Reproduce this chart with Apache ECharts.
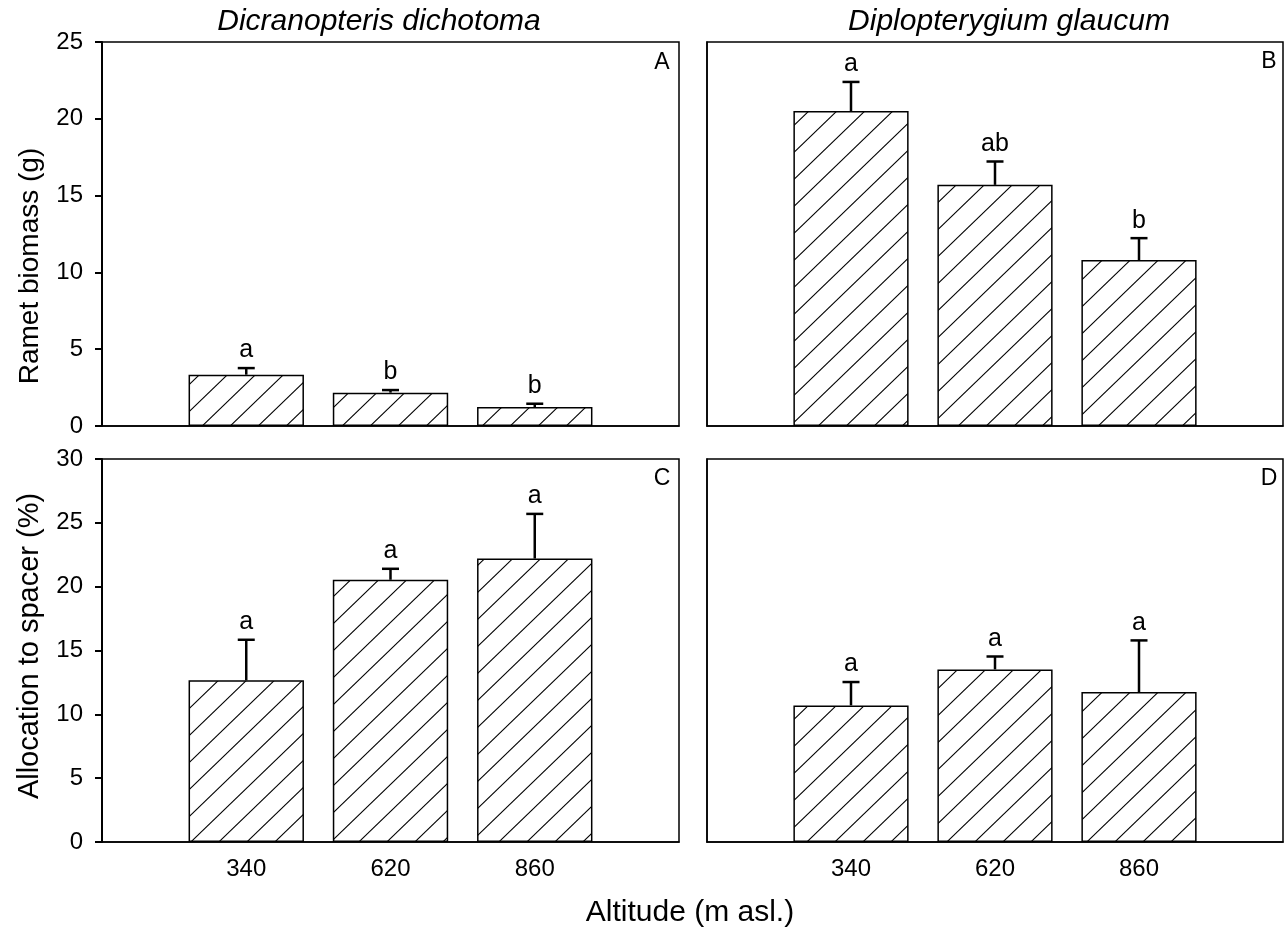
<!DOCTYPE html>
<html>
<head>
<meta charset="utf-8">
<script src="https://cdn.jsdelivr.net/npm/echarts@6/dist/echarts.min.js"></script>
<style>
html,body{margin:0;padding:0;background:#fff;}
#chart{width:1286px;height:933px;}
</style>
</head>
<body>
<div id="chart"></div>
<script>
// ---- data ----
const altitudes = ['340', '620', '860'];
const rametDicr = [3.34, 2.17, 1.23];
const rametDicrSE = [0.43, 0.17, 0.22];
const rametDicrLetters = ['a', 'b', 'b'];
const rametDipl = [20.5, 15.7, 10.8];
const rametDiplSE = [1.9, 1.52, 1.43];
const rametDiplLetters = ['a', 'ab', 'b'];
const allocDicr = [12.66, 20.54, 22.2];
const allocDicrSE = [3.18, 0.86, 3.5];
const allocDicrLetters = ['a', 'a', 'a'];
const allocDipl = [10.7, 13.52, 11.75];
const allocDiplSE = [1.83, 1.01, 4.04];
const allocDiplLetters = ['a', 'a', 'a'];
const rametTicks = [0, 5, 10, 15, 20, 25];
const allocTicks = [0, 5, 10, 15, 20, 25, 30];

const FONT = "'Liberation Sans', Arial, sans-serif";

// hatch pattern
function makeHatch() {
  const w = 28, h = 27;
  const c = document.createElement('canvas');
  c.width = w; c.height = h;
  const ctx = c.getContext('2d');
  ctx.fillStyle = '#fff';
  ctx.fillRect(0, 0, w, h);
  ctx.strokeStyle = '#000';
  ctx.lineWidth = 1.1;
  const s = h / w;
  [-w, 0, w].forEach(function (off) {
    ctx.beginPath();
    ctx.moveTo(off - 2, h + 2 * s);
    ctx.lineTo(off + w + 2, -2 * s);
    ctx.stroke();
  });
  return c;
}
const hatch = { image: makeHatch(), repeat: 'repeat' };

const cats = [''].concat(altitudes).concat(['']);
function pad(arr) { return ['-'].concat(arr).concat(['-']); }

const grids = [
  { left: 102, top: 42, width: 577, height: 384 },
  { left: 707, top: 42, width: 576, height: 384 },
  { left: 102, top: 459, width: 577, height: 383 },
  { left: 707, top: 459, width: 576, height: 383 }
];

const panels = [
  { vals: rametDicr, se: rametDicrSE, letters: rametDicrLetters, max: 25, ticks: rametTicks, yLabel: true, xLabel: false },
  { vals: rametDipl, se: rametDiplSE, letters: rametDiplLetters, max: 25, ticks: rametTicks, yLabel: false, xLabel: false },
  { vals: allocDicr, se: allocDicrSE, letters: allocDicrLetters, max: 30, ticks: allocTicks, yLabel: true, xLabel: true },
  { vals: allocDipl, se: allocDiplSE, letters: allocDiplLetters, max: 30, ticks: allocTicks, yLabel: false, xLabel: true }
];

const xAxis = [], yAxis = [], series = [];
panels.forEach(function (p, i) {
  xAxis.push({
    type: 'category', gridIndex: i, data: cats, boundaryGap: false,
    axisLine: { show: true, lineStyle: { color: '#000', width: 1.5 } },
    axisTick: { show: false },
    axisLabel: { show: p.xLabel, interval: 0, margin: 15, color: '#000', fontSize: 24, fontFamily: FONT },
    splitLine: { show: false }
  });
  yAxis.push({
    type: 'value', gridIndex: i, min: 0, max: p.max, interval: 5,
    axisLine: { show: true, lineStyle: { color: '#000', width: p.yLabel ? 2 : 1.5 } },
    axisTick: { show: p.yLabel, length: 7, lineStyle: { color: '#000', width: 2 } },
    axisLabel: { show: p.yLabel, margin: 19, color: '#000', fontSize: 24, fontFamily: FONT },
    splitLine: { show: false }
  });
  series.push({
    type: 'bar', xAxisIndex: i, yAxisIndex: i,
    data: pad(p.vals), barWidth: '80%',
    itemStyle: { color: hatch, borderColor: '#000', borderWidth: 1.5 },
    silent: true, animation: false
  });
  const errData = p.vals.map(function (v, k) { return [k + 1, v, p.se[k]]; });
  const letters = p.letters;
  series.push({
    type: 'custom', xAxisIndex: i, yAxisIndex: i, data: errData, z: 5,
    animation: false, silent: true,
    renderItem: function (params, api) {
      const x = api.value(0), v = api.value(1), e = api.value(2);
      const p0 = api.coord([x, v]);
      const p1 = api.coord([x, v + e]);
      return {
        type: 'group', children: [
          { type: 'line', shape: { x1: p0[0], y1: p0[1], x2: p1[0], y2: p1[1] }, style: { stroke: '#000', lineWidth: 2.5 } },
          { type: 'line', shape: { x1: p1[0] - 8.5, y1: p1[1], x2: p1[0] + 8.5, y2: p1[1] }, style: { stroke: '#000', lineWidth: 2.5 } },
          { type: 'text', x: p1[0], y: p1[1] - 5, style: { text: letters[params.dataIndex], textAlign: 'center', textVerticalAlign: 'bottom', font: '25px ' + FONT, fill: '#000' } }
        ]
      };
    }
  });
});

const chart = echarts.init(document.getElementById('chart'), null, { renderer: 'canvas' });
chart.setOption({
  backgroundColor: '#fff',
  animation: false,
  grid: grids.map(function (g) { return Object.assign({ show: true, borderColor: '#000', borderWidth: 1.5, backgroundColor: 'transparent' }, g); }),
  xAxis: xAxis,
  yAxis: yAxis,
  series: series,
  graphic: [
    { type: 'text', x: 379, y: 22, style: { text: 'Dicranopteris dichotoma', font: 'italic 30px ' + FONT, fill: '#000', textAlign: 'center', textVerticalAlign: 'middle' } },
    { type: 'text', x: 1009, y: 22, style: { text: 'Diplopterygium glaucum', font: 'italic 30px ' + FONT, fill: '#000', textAlign: 'center', textVerticalAlign: 'middle' } },
    { type: 'text', x: 662, y: 63, style: { text: 'A', font: '23px ' + FONT, fill: '#000', textAlign: 'center', textVerticalAlign: 'middle' } },
    { type: 'text', x: 1269, y: 62, style: { text: 'B', font: '23px ' + FONT, fill: '#000', textAlign: 'center', textVerticalAlign: 'middle' } },
    { type: 'text', x: 662, y: 479, style: { text: 'C', font: '23px ' + FONT, fill: '#000', textAlign: 'center', textVerticalAlign: 'middle' } },
    { type: 'text', x: 1269, y: 479, style: { text: 'D', font: '23px ' + FONT, fill: '#000', textAlign: 'center', textVerticalAlign: 'middle' } },
    { type: 'text', x: 30, y: 266, rotation: Math.PI / 2, style: { text: 'Ramet biomass (g)', font: '28px ' + FONT, fill: '#000', textAlign: 'center', textVerticalAlign: 'middle' } },
    { type: 'text', x: 30, y: 646, rotation: Math.PI / 2, style: { text: 'Allocation to spacer (%)', font: '29px ' + FONT, fill: '#000', textAlign: 'center', textVerticalAlign: 'middle' } },
    { type: 'text', x: 690, y: 913, style: { text: 'Altitude (m asl.)', font: '30px ' + FONT, fill: '#000', textAlign: 'center', textVerticalAlign: 'middle' } }
  ]
});
</script>
</body>
</html>
